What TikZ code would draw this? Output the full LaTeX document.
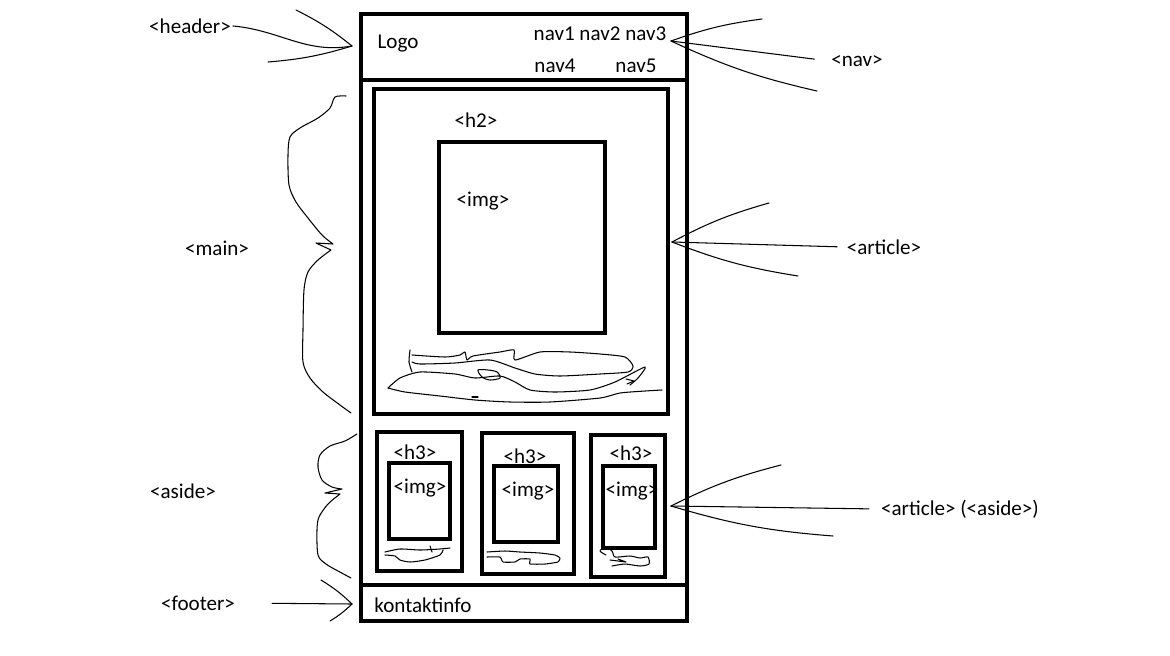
\documentclass[tikz,border=0pt]{standalone}
\usepackage{fontspec}
\setmainfont{Carlito}
\usetikzlibrary{positioning}
\def\px{0.02cm}
\def\bw{0.08cm}
\newcommand{\wbox}[5]{%
% #1 = name, (#2,#3) = top left, (#4,#5) = bottom right
\node[frame, minimum width={(#4-#2)*\px}, minimum height={(#5-#3)*\px}]
(#1) at ({(#2+#4)/2},{(#3+#5)/2}) {};
}
\newcommand{\prongs}[3]{%
% #1 = tip, #2 = upper end, #3 = lower end
\draw[hand] (#1) to[bend left=6] (#2);
\draw[hand] (#1) to[bend right=6] (#3);
}

\begin{document}
\begin{tikzpicture}[
    x=\px, y=-\px,
    frame/.style={draw, line width=\bw, inner sep=0pt},
    hand/.style={line width=0.6pt, line join=round, line cap=round},
    lbl/.style={font=\fontsize{12pt}{14pt}\selectfont, inner sep=1pt}
]
\useasboundingbox (0,0) rectangle (1170,656);

% wireframe
\wbox{page}{361}{14}{687}{621}
\wbox{header}{361}{14}{687}{80}
\wbox{footer}{361}{585}{687}{621}
\wbox{article}{374}{89}{668}{414}
\wbox{bigimg}{439}{142}{605}{333}
\wbox{asideA}{377}{432}{462}{571}
\wbox{imgA}{389}{463}{450}{539}
\wbox{asideB}{482}{433}{574}{574}
\wbox{imgB}{494}{466}{558}{542}
\wbox{asideC}{591}{435}{665}{577}
\wbox{imgC}{603}{466}{655}{548}

\node[lbl] (logo) at (398,44) {Logo};
\node[lbl] (navA) at (600,34) {nav1 nav2 nav3};
\node[lbl] (navB) at (555,66) {nav4};
\node[lbl] (navC) at (636,66) {nav5};
\node[lbl] (h2) at (476,120) {<h2>};
\node[lbl] (imgtxt) at (483,201) {<img>};
\node[lbl] (h3A) at (415,452) {<h3>};
\node[lbl] (h3B) at (525,456) {<h3>};
\node[lbl] (h3C) at (631,453) {<h3>};
\node[lbl] (imgtxtA) at (420,488) {<img>};
\node[lbl] (imgtxtB) at (528,491) {<img>};
\node[lbl] (imgtxtC) at (632,491) {<img>};
\node[lbl] (contact) at (423,605) {kontaktinfo};

% scribbled text
\draw[hand] plot[smooth, tension=0.4] coordinates {(410,350) (409,362) (412,372)};
\draw[hand] plot[smooth, tension=0.4] coordinates {(412,355) (445,357) (460,355)
  (465,352) (467,360) (473,356) (500,352) (514,350) (515,360) (540,352) (570,352)
  (600,354) (625,357) (633,366) (628,372) (600,374) (560,376) (535,374) (515,368)
  (490,360) (455,363) (420,364) (412,362)};
\draw[hand] plot[smooth, tension=0.4] coordinates {(388,388) (400,378) (420,372)
  (455,374) (475,378) (500,376) (515,382) (530,390) (555,392) (590,390) (615,382)
  (645,367) (638,378) (630,385)};
\draw[hand] plot[smooth, tension=0.4] coordinates {(388,388) (405,392) (440,396)
  (475,400) (510,402) (550,402) (600,398) (620,393) (645,391) (662,390)};
\draw[hand] plot[smooth cycle, tension=0.5] coordinates {(478,370) (482,377)
  (490,380) (500,378) (497,372) (488,370)};
\draw[hand] (626,379) -- (634,381) -- (627,384);
\draw[hand] (472,397) -- (478,397);
\draw[hand] plot[smooth, tension=0.4] coordinates {(385,552) (400,549) (420,550)
  (440,549) (450,548)};
\draw[hand] plot[smooth, tension=0.4] coordinates {(385,555) (395,556) (400,560)
  (410,562) (425,560) (440,555) (443,550)};
\draw[hand] (430,546) -- (432,552);
\draw[hand] plot[smooth, tension=0.3] coordinates {(487,552) (505,551) (520,552)
  (540,553) (555,555) (560,558) (558,562) (545,564) (530,564) (530,559) (520,559)
  (515,562) (503,562) (500,557) (487,557)};
\draw[hand] plot[smooth, tension=0.4] coordinates {(606,555) (600,551) (605,547)
  (612,551) (615,557) (630,556) (640,558) (648,557) (649,564) (640,566) (625,564)
  (612,566)};
\draw[hand] (610,560) -- (626,562) -- (618,559);

% braces
\draw[hand] plot[smooth, tension=0.5] coordinates {(346,96) (335,97) (330,108)
  (318,118) (300,128) (290,137) (288,155) (289,185) (296,202) (308,218) (322,235)
  (333,244)} -- (316,243) -- (331,250) plot[smooth, tension=0.5] coordinates {
  (331,250) (318,260) (308,272) (304,290) (303,330) (303,362) (310,378) (323,392)
  (340,405) (351,413)};
\draw[hand] plot[smooth, tension=0.5] coordinates {(357,434) (345,441) (330,446)
  (320,455) (318,467) (322,480) (332,487) (342,489)} -- (325,493) -- (340,494)
  plot[smooth, tension=0.5] coordinates {(340,494) (328,504) (319,517) (317,530)
  (318,555) (326,564) (338,571) (351,578)};

% labels and pointers
\node[lbl] (headlbl) at (190,26) {<header>};
\node[lbl] (mainlbl) at (217,248) {<main>};
\node[lbl] (asidelbl) at (183,491) {<aside>};
\node[lbl] (footlbl) at (198,603) {<footer>};
\node[lbl] (navlbl) at (857,61) {<nav>};
\node[lbl] (artlbl) at (884,247) {<article>};
\node[lbl] (subartlbl) at (960,509) {<article> (<aside>)};

\coordinate (headtip) at (352,46);
\coordinate (headup) at (296,10);
\coordinate (headdown) at (268,62);
\draw[hand] (headlbl.east) to[out=-5,in=190] (headtip);
\prongs{headtip}{headdown}{headup}

\coordinate (navtip) at (671,41);
\coordinate (navup) at (762,19);
\coordinate (navdown) at (817,91);
\draw[hand, shorten <=0.3cm] (navlbl.west) -- (navtip);
\prongs{navtip}{navup}{navdown}

\coordinate (arttip) at (672,242);
\coordinate (artup) at (769,203);
\coordinate (artdown) at (798,276);
\draw[hand, shorten <=0.15cm] (artlbl.west) -- (arttip);
\prongs{arttip}{artup}{artdown}

\coordinate (subarttip) at (671,506);
\coordinate (subartup) at (781,465);
\coordinate (subartdown) at (833,536);
\draw[hand, shorten <=0.2cm] (subartlbl.west) -- (subarttip);
\prongs{subarttip}{subartup}{subartdown}

\coordinate (foottip) at (352,604);
\coordinate (footup) at (321,580);
\coordinate (footdown) at (330,621);
\draw[hand, shorten <=0.7cm] (footlbl.east) -- (foottip);
\prongs{foottip}{footdown}{footup}
\end{tikzpicture}
\end{document}
